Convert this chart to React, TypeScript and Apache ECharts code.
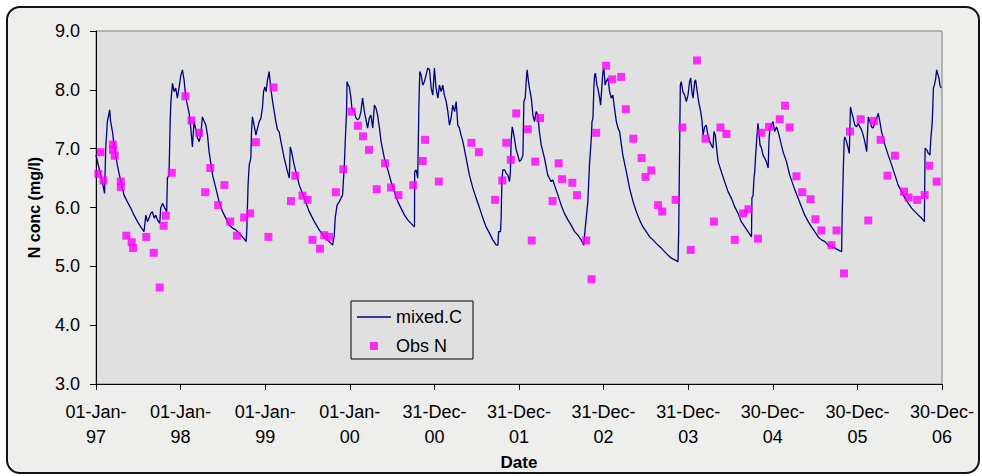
import { useEffect, useRef } from "react";
import * as echarts from "echarts";

// Days since 01-Jan-1997 and modelled concentration (mixed.C)
const lineDays = [
  0, 13, 27, 37, 42, 49, 59, 63, 71, 78, 92, 107, 121, 135, 150, 164, 179, 193, 207, 215, 222, 229, 236, 243, 251, 258, 265, 275, 279, 287, 297, 305, 308, 315, 320, 323, 330, 337, 344, 351, 359, 366, 373, 380, 387, 402, 409, 416, 423, 431, 438, 445, 452, 459, 467, 474, 481, 488, 503, 517, 531, 546, 560, 575, 589,
  603, 618, 632, 648, 651, 656, 661, 668, 671, 675, 682, 690, 697, 704, 711, 718, 723, 728, 734, 740, 747, 754, 762, 769, 776, 783, 790, 798, 812, 826, 834, 838, 844, 852, 862, 877, 898, 920, 942, 963, 985, 1006, 1021, 1028, 1032, 1040, 1050, 1057, 1064, 1068, 1071, 1076, 1081, 1083, 1088, 1093, 1100, 1104, 1114, 1122, 1129, 1136, 1143, 1150, 1158, 1165, 1172, 1179, 1186, 1194, 1201, 1208,
  1215, 1223, 1230, 1244, 1259, 1273, 1287, 1302, 1316, 1331, 1345, 1359, 1374, 1375, 1381, 1388, 1393, 1397, 1403, 1410, 1417, 1424, 1431, 1439, 1446, 1453, 1460, 1467, 1475, 1482, 1489, 1496, 1503, 1511, 1518, 1525, 1532, 1539, 1547, 1554, 1561, 1568, 1575, 1583, 1597, 1611, 1626, 1640, 1655, 1669, 1683, 1698, 1712, 1727, 1734, 1737, 1745, 1748, 1751, 1755, 1763, 1770, 1777, 1784, 1788, 1791, 1796, 1803,
  1813, 1820, 1827, 1834, 1842, 1846, 1852, 1856, 1860, 1866, 1870, 1878, 1885, 1892, 1899, 1906, 1913, 1921, 1935, 1949, 1964, 1971, 1978, 1993, 2007, 2021, 2036, 2050, 2065, 2079, 2093, 2105, 2108, 2115, 2122, 2129, 2137, 2140, 2144, 2148, 2151, 2155, 2161, 2165, 2173, 2177, 2183, 2187, 2191, 2197, 2201, 2209, 2216, 2223, 2230, 2237, 2245, 2252, 2259, 2273, 2288, 2302, 2317, 2331, 2345, 2360, 2374, 2389, 2403, 2417,
  2425, 2439, 2453, 2468, 2482, 2497, 2511, 2514, 2518, 2521, 2525, 2532, 2540, 2547, 2554, 2561, 2566, 2571, 2576, 2583, 2587, 2594, 2600, 2609, 2615, 2619, 2626, 2633, 2640, 2648, 2655, 2662, 2666, 2672, 2676, 2684, 2698, 2712, 2727, 2741, 2756, 2770, 2784, 2799, 2813, 2828, 2830, 2835, 2839, 2842, 2846, 2851, 2856, 2861, 2865, 2871, 2878, 2885, 2892, 2900, 2904, 2908, 2914, 2921, 2928, 2936, 2943, 2950, 2957, 2964, 2979, 2993, 3008,
  3015, 3029, 3044, 3058, 3073, 3087, 3101, 3116, 3130, 3145, 3159, 3173, 3188, 3202, 3217, 3219, 3224, 3228, 3231, 3238, 3245, 3250, 3255, 3260, 3267, 3274, 3281, 3289, 3296, 3303, 3310, 3317, 3325, 3332, 3339, 3346, 3353, 3361, 3368, 3375, 3382, 3389, 3397, 3404, 3418, 3433, 3447, 3461, 3476, 3490, 3505, 3519, 3533, 3548, 3562, 3574, 3577, 3584, 3591, 3598, 3602, 3608, 3613, 3617, 3623, 3627, 3631, 3637, 3641, 3646,
];
const lineValues = [
  6.89, 6.67, 6.44, 6.24, 7.01, 7.46, 7.66, 7.46, 7.29, 7.06, 6.72, 6.44, 6.21, 6.10, 5.99, 5.87, 5.76, 5.67, 5.59, 5.87, 5.76, 5.82, 5.90, 5.93, 5.82, 5.87, 5.79, 5.73, 5.99, 6.07, 5.99, 5.93, 6.50, 6.55, 7.46, 7.80, 8.11, 7.97, 8.03, 7.86, 8.05, 8.25, 8.34, 8.17, 7.88, 7.60, 7.35, 7.03, 7.46, 7.32, 7.18, 7.12, 7.23, 7.54, 7.46, 7.40, 7.23, 6.95, 6.55, 6.33, 6.10, 5.93, 5.82, 5.70, 5.65,
  5.62, 5.56, 5.50, 5.42, 5.65, 6.38, 6.72, 6.84, 7.29, 7.54, 7.40, 7.23, 7.35, 7.46, 7.51, 7.69, 7.97, 8.05, 7.97, 8.17, 8.31, 8.03, 7.80, 7.63, 7.46, 7.32, 7.29, 7.12, 6.84, 6.61, 6.50, 7.03, 6.95, 6.78, 6.61, 6.38, 6.16, 5.93, 5.76, 5.62, 5.50, 5.42, 5.36, 5.53, 5.82, 6.04, 6.10, 6.16, 6.21, 6.50, 6.67, 7.18, 7.63, 8.14, 8.08, 8.05, 7.86, 7.69, 7.63, 7.52, 7.49, 7.52, 7.63, 7.86, 7.63, 7.49, 7.35, 7.52, 7.57, 7.35, 7.74, 7.69,
  7.57, 7.35, 7.12, 6.84, 6.64, 6.44, 6.27, 6.10, 5.99, 5.87, 5.79, 5.73, 5.67, 6.61, 6.64, 6.50, 7.71, 8.31, 8.25, 8.08, 8.14, 8.25, 8.37, 8.34, 8.03, 7.91, 8.37, 8.03, 7.86, 8.08, 7.97, 8.08, 7.91, 7.80, 7.63, 7.40, 7.52, 7.74, 7.63, 7.80, 7.40, 7.35, 7.23, 7.12, 6.84, 6.55, 6.33, 6.16, 5.99, 5.82, 5.67, 5.56, 5.45, 5.36, 5.36, 5.59, 5.59, 5.82, 6.44, 6.64, 6.64, 6.58, 6.55, 6.44, 6.61, 7.12, 7.37, 7.23,
  6.98, 6.89, 6.78, 6.81, 6.89, 7.80, 7.86, 8.14, 8.34, 8.14, 8.03, 7.86, 7.57, 7.46, 7.63, 7.57, 7.29, 7.06, 6.84, 6.55, 6.44, 6.47, 6.38, 6.21, 6.04, 5.90, 5.79, 5.70, 5.59, 5.53, 5.45, 5.36, 5.53, 5.82, 6.10, 6.72, 7.18, 7.46, 7.52, 8.03, 8.25, 8.28, 8.08, 8.03, 7.86, 7.74, 8.08, 8.31, 8.37, 8.08, 8.14, 8.20, 7.97, 7.86, 7.91, 7.69, 7.46, 7.35, 7.29, 6.89, 6.61, 6.33, 6.10, 5.93, 5.79, 5.67, 5.59, 5.50, 5.45, 5.39,
  5.36, 5.31, 5.25, 5.19, 5.14, 5.11, 5.08, 5.59, 7.01, 8.08, 8.14, 7.97, 7.91, 7.80, 7.91, 8.14, 8.20, 7.97, 7.86, 8.14, 8.17, 7.97, 7.80, 7.63, 7.46, 7.23, 7.37, 7.40, 7.23, 7.12, 7.06, 7.01, 7.29, 7.23, 7.06, 6.78, 6.61, 6.44, 6.27, 6.16, 6.01, 5.90, 5.76, 5.67, 5.59, 5.50, 6.16, 6.21, 6.50, 6.61, 6.89, 7.18, 7.43, 7.23, 7.06, 7.01, 6.89, 6.84, 6.78, 6.67, 7.18, 7.35, 7.40, 7.46, 7.29, 7.37, 7.29, 7.18, 7.06, 6.95, 6.78, 6.55, 6.38,
  6.30, 6.16, 6.01, 5.87, 5.76, 5.67, 5.59, 5.50, 5.45, 5.42, 5.36, 5.33, 5.31, 5.28, 5.25, 5.82, 6.61, 7.15, 7.20, 7.12, 7.01, 6.92, 7.71, 7.63, 7.52, 7.40, 7.37, 7.43, 7.37, 7.32, 7.23, 7.12, 6.95, 7.54, 7.46, 7.37, 7.35, 7.46, 7.52, 7.60, 7.46, 7.29, 7.18, 7.06, 6.89, 6.72, 6.55, 6.38, 6.27, 6.16, 6.07, 5.99, 5.93, 5.87, 5.82, 5.76, 7.01, 6.98, 6.92, 6.89, 7.18, 7.46, 8.03, 8.08, 8.20, 8.34, 8.28, 8.20, 8.08, 8.03,
];

// Observed N (Obs N)
const obsDays = [
  10, 20, 32, 73, 73, 81, 107, 107, 131, 154, 160, 217, 249, 275, 292, 301, 327, 386, 412, 445, 471, 493, 527, 554, 579, 608, 639, 665, 690, 744, 766, 841, 860, 891, 913, 934, 966, 985, 1006, 1035, 1067, 1103, 1130, 1152, 1178, 1211, 1247, 1273, 1305, 1369, 1410, 1420, 1479, 1620, 1652, 1722, 1753, 1770, 1790, 1813, 1863, 1880, 1895, 1916, 1970, 1996, 2011, 2055, 2075, 2115, 2138, 2158, 2201, 2227, 2266, 2286, 2318, 2354, 2371, 2396, 2425, 2443, 2501, 2530, 2566, 2593, 2630, 2666, 2694, 2720, 2756, 2792, 2815, 2856, 2871, 2904, 2950, 2973, 2993, 3022, 3047, 3083, 3104, 3130, 3173, 3195, 3227, 3253, 3299, 3332, 3356, 3385, 3415, 3447, 3486, 3506, 3543, 3575, 3595, 3627,
];
const obsValues = [
  6.57, 6.94, 6.46, 7.07, 6.98, 6.88, 6.44, 6.35, 5.52, 5.41, 5.31, 5.50, 5.23, 4.64, 5.69, 5.86, 6.59, 7.89, 7.48, 7.27, 6.26, 6.67, 6.04, 6.38, 5.76, 5.52, 5.83, 5.90, 7.11, 5.50, 8.04, 6.11, 6.54, 6.20, 6.13, 5.45, 5.30, 5.53, 5.50, 6.26, 6.65, 7.63, 7.39, 7.21, 6.98, 6.31, 6.75, 6.34, 6.21, 6.38, 6.79, 7.15, 6.44, 7.10, 6.94, 6.13, 6.46, 7.10, 6.81, 7.60, 7.33, 5.44, 6.78, 7.52, 6.11, 6.75, 6.48, 6.42, 6.21, 5.44, 4.78, 7.27, 8.41, 8.18, 8.22, 7.67, 7.17, 6.84, 6.52, 6.63, 6.04, 5.93, 6.13, 7.36, 5.28, 8.50, 7.17, 5.76, 7.36, 7.25, 5.45, 5.90, 5.97, 5.47, 7.27, 7.37, 7.50, 7.73, 7.36, 6.53, 6.26, 6.14, 5.80, 5.61, 5.36, 5.61, 4.88, 7.29, 7.50, 5.78, 7.47, 7.15, 6.54, 6.88, 6.27, 6.17, 6.13, 6.21, 6.71, 6.44,
];

const monthNames = ["Jan", "Feb", "Mar", "Apr", "May", "Jun", "Jul", "Aug", "Sep", "Oct", "Nov", "Dec"];
const startDate = Date.UTC(1997, 0, 1);
const xTickStepDays = 365;
const xMaxDays = 3650;

function dayLabel(v: number): string {
  const d = new Date(startDate + Math.round(v) * 86400000);
  const dd = String(d.getUTCDate()).padStart(2, "0");
  const yy = String(d.getUTCFullYear() % 100).padStart(2, "0");
  return `${dd}-${monthNames[d.getUTCMonth()]}-\n${yy}`;
}

const FONT = "'Liberation Sans', Arial, sans-serif";

export default function App() {
  const ref = useRef<HTMLDivElement>(null);
  useEffect(() => {
    if (!ref.current) return;
    const chart = echarts.init(ref.current, null, { renderer: "svg" });
    chart.setOption({
      animation: false,
      backgroundColor: "transparent",
      textStyle: { fontFamily: FONT },
      graphic: [
        {
          type: "rect",
          z: -100,
          shape: { x: 7, y: 7, width: 972, height: 466, r: 13 },
          style: { fill: "#eeeeec", stroke: "#111111", lineWidth: 2 },
          silent: true,
        },
      ],
      grid: {
        left: 96,
        right: 40,
        top: 31,
        bottom: 92,
        show: true,
        backgroundColor: "#e0e0e0",
        borderColor: "#808080",
        borderWidth: 1,
      },
      legend: {
        orient: "vertical",
        left: 351,
        top: 301,
        backgroundColor: "#e0e0e0",
        borderColor: "#000000",
        borderWidth: 1,
        borderRadius: 0,
        padding: [6, 11, 3, 6],
        itemGap: 9,
        itemWidth: 34,
        itemHeight: 8,
        symbolKeepAspect: true,
        textStyle: { fontSize: 18, color: "#000", fontFamily: FONT, lineHeight: 20 },
        data: [
          { name: "mixed.C", icon: "path://M0,0H34V1.3H0Z" },
          { name: "Obs N", icon: "path://M0,0H1V1H0Z" },
        ],
      },
      xAxis: {
        type: "value",
        min: 0,
        max: xMaxDays,
        interval: xTickStepDays,
        name: "Date",
        nameLocation: "middle",
        nameGap: 63,
        nameTextStyle: { fontSize: 17, fontWeight: "bold", color: "#000", fontFamily: FONT },
        axisLine: { show: true, onZero: false, lineStyle: { color: "#000", width: 1 } },
        axisTick: { show: true, inside: false, length: 6, lineStyle: { color: "#000" } },
        axisLabel: {
          formatter: dayLabel,
          fontSize: 18,
          lineHeight: 25,
          color: "#000",
          margin: 15,
          fontFamily: FONT,
          showMinLabel: true,
          showMaxLabel: true,
        },
        splitLine: { show: false },
      },
      yAxis: {
        type: "value",
        min: 3,
        max: 9,
        interval: 1,
        name: "N conc (mg/l)",
        nameLocation: "middle",
        nameGap: 54,
        nameTextStyle: { fontSize: 16, fontWeight: "bold", color: "#000", fontFamily: FONT },
        axisLine: { show: true, lineStyle: { color: "#000", width: 1 } },
        axisTick: { show: true, inside: false, length: 6, lineStyle: { color: "#000" } },
        axisLabel: {
          formatter: (v: number) => v.toFixed(1),
          fontSize: 18,
          color: "#000",
          margin: 16,
          fontFamily: FONT,
        },
        splitLine: { show: false },
      },
      series: [
        {
          name: "mixed.C",
          type: "line",
          data: lineDays.map((d, i) => [d, lineValues[i]]),
          showSymbol: false,
          symbol: "none",
          lineStyle: { color: "#000080", width: 1.3 },
          itemStyle: { color: "#000080" },
          z: 2,
        },
        {
          name: "Obs N",
          type: "scatter",
          data: obsDays.map((d, i) => [d, obsValues[i]]),
          symbol: "rect",
          symbolSize: 8,
          itemStyle: { color: "#ff00ff" },
          z: 3,
        },
      ],
    });
    return () => chart.dispose();
  }, []);
  return (
    <div
      ref={ref}
      style={{ position: "fixed", left: 0, top: 0, width: 982, height: 476, background: "#ffffff" }}
    />
  );
}
